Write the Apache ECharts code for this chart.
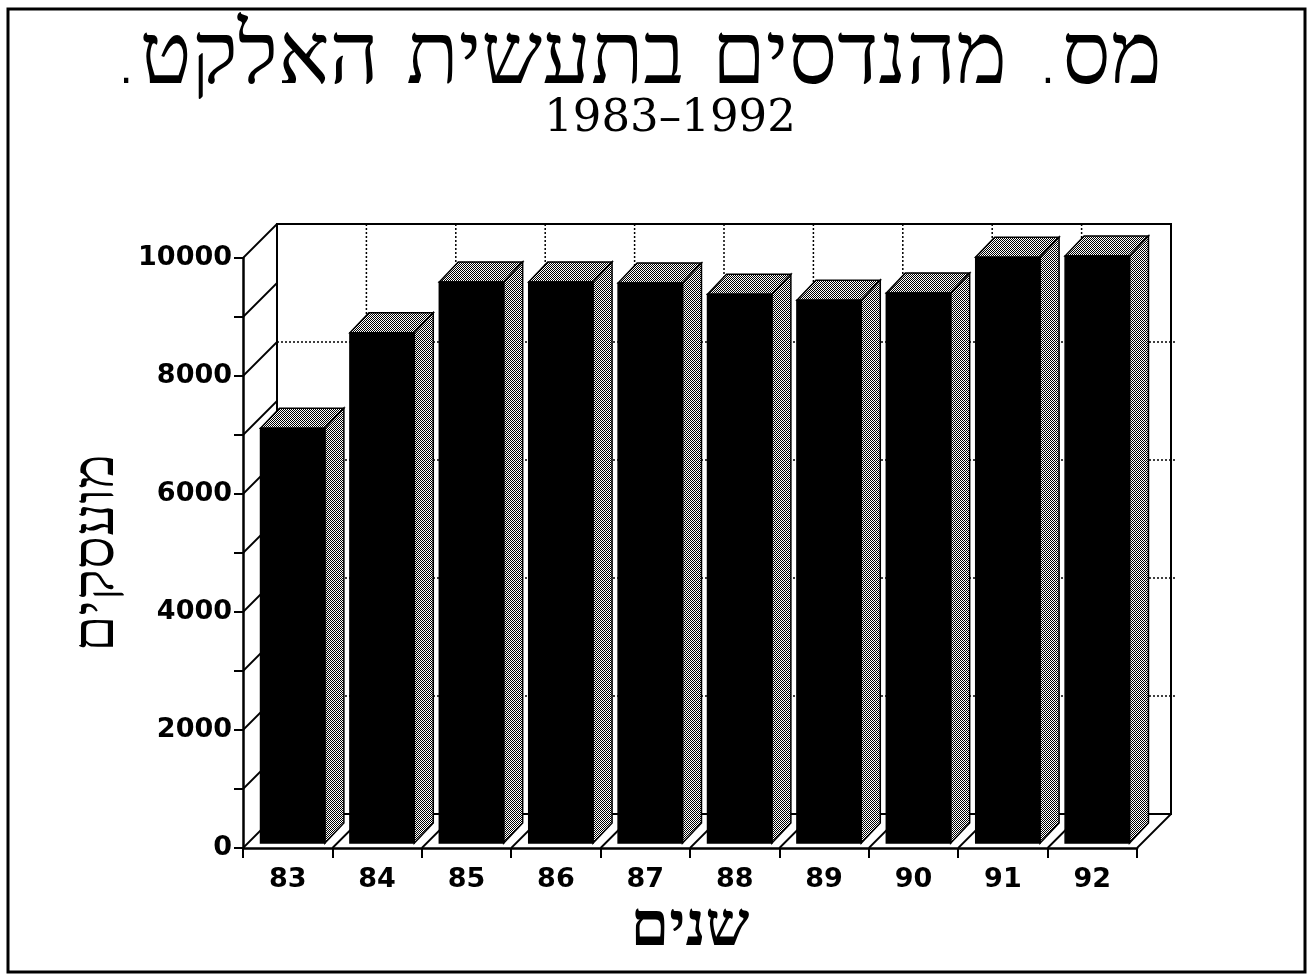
<!DOCTYPE html>
<html>
<head>
<meta charset="utf-8">
<script src="https://cdn.jsdelivr.net/npm/echarts@6/dist/echarts.min.js"></script>
<style>
  html, body { margin: 0; padding: 0; background: #fff; }
  #chart { width: 1308px; height: 974px; }
</style>
</head>
<body>
<div id="chart"></div>
<script>
// ---- data ----
const categories = ['83', '84', '85', '86', '87', '88', '89', '90', '91', '92'];
const engineers = [7030, 8650, 9510, 9510, 9490, 9300, 9200, 9320, 9930, 9950];
const yTickLabels = ['0', '2000', '4000', '6000', '8000', '10000'];
const titleText = 'מס. מהנדסים בתעשית האלקט.\u200F';
const subtitleText = '1983\u20131992';
const yAxisName = 'מועסקים';
const xAxisName = 'שנים';

// ---- halftone pattern ----
function makePattern() {
  const c = document.createElement('canvas');
  c.width = 4; c.height = 4;
  const ctx = c.getContext('2d');
  ctx.fillStyle = '#ffffff';
  ctx.fillRect(0, 0, 4, 4);
  ctx.fillStyle = '#000000';
  for (let y = 0; y < 4; y++) {
    for (let x = 0; x < 4; x++) {
      if ((x + y) % 2 === 0) ctx.fillRect(x, y, 1, 1);
    }
  }
  return { image: c, repeat: 'repeat' };
}
const pattern = makePattern();

const DX = 34, DY = -34;        // wall depth
const FS = 5;                   // bar front offset into depth
const BDX = 19, BDY = -20;      // bar depth

const chart = echarts.init(document.getElementById('chart'), null, { renderer: 'canvas' });

function renderFrame(params, api) {
  const cs = params.coordSys;
  const x0 = cs.x, x1 = cs.x + cs.width;
  const yBot = api.coord([0, 0])[1];
  const yTop = api.coord([0, 10000])[1];
  const children = [];
  const solid = { stroke: '#000', lineWidth: 2, fill: null };
  const dotted = { stroke: '#000', lineWidth: 1.5, lineDash: [2, 2], fill: null };
  children.push({ type: 'polyline', shape: { points: [[x0 + DX, yBot + DY], [x0 + DX, yTop + DY], [x1 + DX, yTop + DY], [x1 + DX, yBot + DY], [x0 + DX, yBot + DY]] }, style: solid });
  for (let i = 1; i < yTickLabels.length - 1; i++) {
    const yy = api.coord([0, +yTickLabels[i]])[1] + DY;
    children.push({ type: 'line', shape: { x1: x0 + DX, y1: yy, x2: x1 + DX + 6, y2: yy }, style: dotted });
  }
  const cw = cs.width / categories.length;
  for (let i = 1; i < categories.length; i++) {
    const xx = x0 + i * cw + DX;
    children.push({ type: 'line', shape: { x1: xx, y1: yTop + DY, x2: xx, y2: yBot + DY }, style: dotted });
  }
  for (let v = 0; v <= 10000; v += 1000) {
    const yy = api.coord([0, v])[1];
    children.push({ type: 'line', shape: { x1: x0, y1: yy, x2: x0 + DX, y2: yy + DY }, style: { stroke: '#000', lineWidth: 1.8 } });
  }
  for (let i = 1; i <= categories.length; i++) {
    const xx = x0 + i * cw;
    children.push({ type: 'line', shape: { x1: xx, y1: yBot, x2: xx + DX, y2: yBot + DY }, style: { stroke: '#000', lineWidth: 1.8 } });
  }
  return { type: 'group', children };
}

function renderBar(params, api) {
  const cat = api.value(0);
  const val = api.value(1);
  const base = api.coord([cat, 0]);
  const topP = api.coord([cat, val]);
  const bw = api.size([1, 0])[0] * 0.72;
  const xl = base[0] - bw / 2 + FS;
  const xr = base[0] + bw / 2 + FS;
  const yb = base[1] - FS;
  const yt = topP[1] - FS;
  const edge = { stroke: '#000', lineWidth: 1.5 };
  return {
    type: 'group',
    children: [
      { type: 'polygon', shape: { points: [[xl, yt], [xl + BDX, yt + BDY], [xr + BDX, yt + BDY], [xr, yt]] },
        style: Object.assign({ fill: pattern }, edge) },
      { type: 'polygon', shape: { points: [[xr, yt], [xr + BDX, yt + BDY], [xr + BDX, yb + BDY], [xr, yb]] },
        style: Object.assign({ fill: pattern }, edge) },
      { type: 'rect', shape: { x: xl, y: yt, width: bw, height: yb - yt },
        style: Object.assign({ fill: '#000' }, edge) }
    ]
  };
}

const option = {
  backgroundColor: '#fff',
  animation: false,
  title: [{
    text: titleText,
    left: 632,
    textAlign: 'center',
    top: 13,
    textStyle: { fontFamily: 'DejaVu Sans', fontSize: 86, fontWeight: 200, color: '#000' }
  }, {
    text: subtitleText,
    left: 665,
    textAlign: 'center',
    top: 92,
    textStyle: { fontFamily: 'DejaVu Serif', fontSize: 45, fontWeight: 'normal', color: '#000' }
  }],
  graphic: [{
    type: 'rect', shape: { x: 8, y: 9, width: 1297, height: 963 },
    style: { fill: null, stroke: '#000', lineWidth: 3 }, silent: true
  }],
  grid: { left: 243, right: 171, top: 258, bottom: 126 },
  xAxis: {
    type: 'category',
    data: categories,
    name: xAxisName,
    nameLocation: 'middle',
    nameGap: 48,
    nameTextStyle: { fontFamily: 'Liberation Serif', fontSize: 62, fontWeight: 'bold', color: '#000' },
    axisLine: { lineStyle: { color: '#000', width: 2.5 } },
    axisTick: { show: true, length: 10, lineStyle: { color: '#000', width: 2 }, alignWithLabel: false },
    axisLabel: { fontFamily: 'DejaVu Sans', fontSize: 27, fontWeight: 'bold', color: '#000', margin: 18 },
    splitLine: { show: false }
  },
  yAxis: {
    type: 'value',
    min: 0, max: 10000, interval: 1000,
    name: yAxisName,
    nameLocation: 'middle',
    nameGap: 114,
    nameTextStyle: { fontFamily: 'Liberation Serif', fontSize: 58, fontWeight: 'normal', color: '#000' },
    axisLine: { show: true, lineStyle: { color: '#000', width: 2.5 } },
    axisTick: { show: true, length: 9, lineStyle: { color: '#000', width: 2 } },
    axisLabel: {
      fontFamily: 'DejaVu Sans', fontSize: 27, fontWeight: 'bold', color: '#000', margin: 11,
      formatter: function (v) { return yTickLabels.indexOf(String(v)) >= 0 ? String(v) : ''; }
    },
    splitLine: { show: false }
  },
  series: [
    { type: 'custom', name: 'frame', renderItem: renderFrame, data: [[0, 0]], z: 1, silent: true, clip: false },
    { type: 'custom', name: 'engineers', renderItem: renderBar,
      data: engineers.map((v, i) => [i, v]), z: 2, clip: false,
      encode: { x: 0, y: 1 } }
  ]
};
chart.setOption(option);
</script>
</body>
</html>
